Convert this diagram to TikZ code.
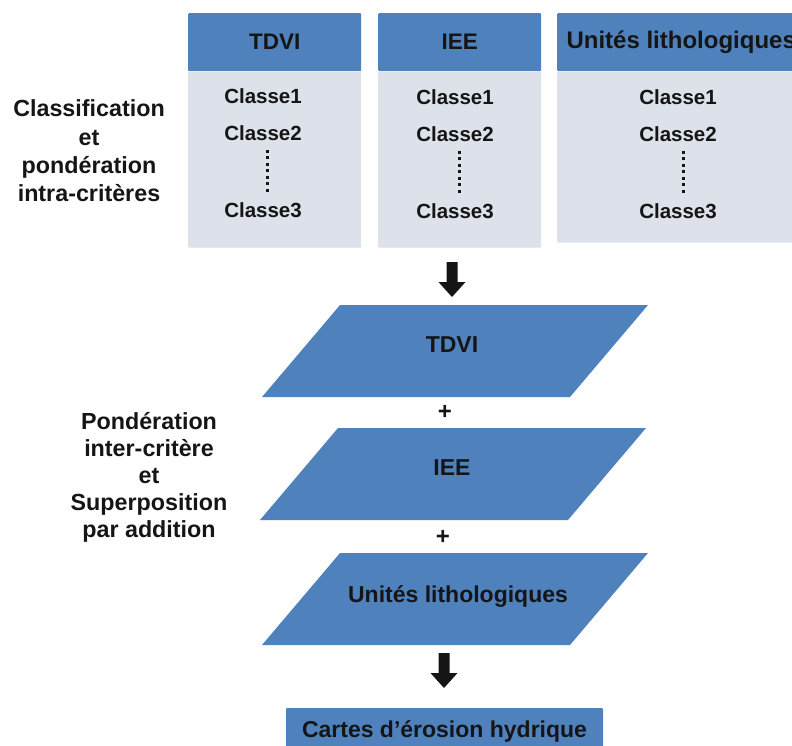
\documentclass[tikz,border=0pt]{standalone}
\usepackage{fontspec}
\setmainfont{Liberation Sans}
\usetikzlibrary{calc}
\definecolor{hdrblue}{HTML}{4F81BD}
\definecolor{bodygray}{HTML}{DCE1EA}
\definecolor{ink}{HTML}{151515}

\tikzset{
  hdr/.style={fill=hdrblue, text=ink, font=\fontsize{22.5}{27}\selectfont\bfseries,
    inner sep=0pt, anchor=north west, rounded corners=1pt},
  bodybox/.style={fill=bodygray, inner sep=0pt, anchor=north west, rounded corners=1pt},
  cls/.style={text=ink, font=\fontsize{20.5}{24}\selectfont\bfseries, inner sep=0pt},
  dotline/.style={ink, line width=3pt, dash pattern=on 3pt off 3.5pt,
    shorten <=9pt, shorten >=9pt},
  partxt/.style={text=ink, font=\fontsize{23}{27}\selectfont\bfseries, inner sep=0pt},
  parafill/.style={fill=hdrblue},
  sidelabel/.style={text=ink, font=\fontsize{23.3}{27}\selectfont\bfseries,
    align=center, inner sep=0pt},
  plussign/.style={text=ink, font=\fontsize{24}{24}\selectfont\bfseries, inner sep=0pt},
  result/.style={fill=hdrblue, text=ink, font=\fontsize{23}{27}\selectfont\bfseries,
    inner sep=0pt, rounded corners=1pt},
  blockarrow/.pic={
    \fill[ink] (-5.5,-35) -- (5.5,-35) -- (5.5,-15) -- (13.5,-15) -- (0,0)
      -- (-13.5,-15) -- (-5.5,-15) -- cycle;
  }
}

\begin{document}
\begin{tikzpicture}[x=1pt, y=-1pt]
  \useasboundingbox (0,0) rectangle (792,745);
  \clip (0,0) rectangle (792,745);

  % --- criteria columns: header + list of classes
  \node[hdr, minimum width=173pt, minimum height=58pt] (h1) at (188,13) {TDVI};
  \node[bodybox, minimum width=173pt, minimum height=176pt] (b1) at (h1.south west) {};
  \node[hdr, minimum width=163pt, minimum height=58pt] (h2) at (378,13) {IEE};
  \node[bodybox, minimum width=163pt, minimum height=176pt] (b2) at (h2.south west) {};
  \node[hdr, minimum width=245pt, minimum height=58pt, font=\fontsize{24}{27}\selectfont\bfseries]
    (h3) at (557,13) {\hspace{3pt}Unités lithologiques};
  \node[bodybox, minimum width=245pt, minimum height=171pt] (b3) at (h3.south west) {};

  \node[cls] (c11) at (263,96) {Classe1};
  \node[cls] (c12) at (263,133) {Classe2};
  \node[cls] (c13) at (263,210) {Classe3};
  \node[cls] (c21) at (455,97) {Classe1};
  \node[cls] (c22) at (455,134) {Classe2};
  \node[cls] (c23) at (455,211) {Classe3};
  \node[cls] (c31) at (678,97) {Classe1};
  \node[cls] (c32) at (678,134) {Classe2};
  \node[cls] (c33) at (678,211) {Classe3};

  \draw[dotline] ([xshift=4pt]c12.south) -- ([xshift=4pt]c13.north);
  \draw[dotline] ([xshift=4pt]c22.south) -- ([xshift=4pt]c23.north);
  \draw[dotline] ([xshift=5pt]c32.south) -- ([xshift=5pt]c33.north);

  \node[sidelabel, font=\fontsize{23.3}{28.3}\selectfont\bfseries] (lab1) at (89,151)
    {Classification\\et\\pondération\\intra-critères};

  % --- weighted layers
  \pic (arr1) at (452,297) {blockarrow};

  \coordinate (q1) at (455,351);
  \fill[parafill] ($(q1)+(-115,-46)$) -- ($(q1)+(193,-46)$) -- ($(q1)+(115,46)$) -- ($(q1)+(-193,46)$) -- cycle;
  \node[partxt] (p1) at ($(q1)+(-3,-6)$) {TDVI};

  \node[plussign] (plus1) at (445,412) {+};

  \coordinate (q2) at (453,474);
  \fill[parafill] ($(q2)+(-115,-46)$) -- ($(q2)+(193,-46)$) -- ($(q2)+(115,46)$) -- ($(q2)+(-193,46)$) -- cycle;
  \node[partxt] (p2) at ($(q2)+(-1,-6)$) {IEE};

  \node[plussign] (plus2) at (443,537) {+};

  \coordinate (q3) at (455,599);
  \fill[parafill] ($(q3)+(-115,-46)$) -- ($(q3)+(193,-46)$) -- ($(q3)+(115,46)$) -- ($(q3)+(-193,46)$) -- cycle;
  \node[partxt] (p3) at ($(q3)+(3,-3)$) {Unités lithologiques};

  \node[sidelabel] (lab2) at (149,477) {Pondération\\inter-critère\\et\\Superposition\\par addition};

  % --- result
  \pic (arr2) at (444,688) {blockarrow};
  \node[result, minimum width=317pt, minimum height=46pt, anchor=north] (res) at (444.5,708)
    {Cartes d’érosion hydrique};
\end{tikzpicture}
\end{document}
